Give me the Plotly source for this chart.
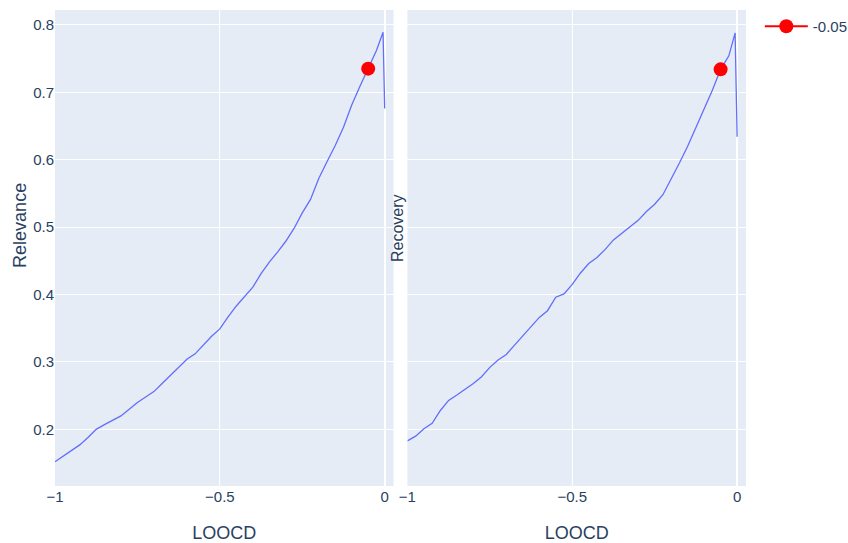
import plotly.graph_objects as go
from plotly.subplots import make_subplots

# LOOCD threshold grid (shared by both panels)
loocd_rel = [-1.0, -0.975, -0.95, -0.925, -0.9, -0.875, -0.85, -0.825, -0.8, -0.775,
             -0.75, -0.725, -0.7, -0.675, -0.65, -0.625, -0.6, -0.575, -0.55, -0.525,
             -0.5, -0.475, -0.45, -0.425, -0.4, -0.375, -0.35, -0.325, -0.3, -0.275,
             -0.25, -0.225, -0.2, -0.175, -0.15, -0.125, -0.1, -0.075, -0.05, -0.025,
             -0.005, 0.0]
relevance = [0.152, 0.160, 0.168, 0.177, 0.188, 0.200, 0.207, 0.213, 0.220, 0.230,
             0.240, 0.248, 0.256, 0.268, 0.280, 0.291, 0.304, 0.312, 0.325, 0.338,
             0.349, 0.367, 0.383, 0.397, 0.411, 0.431, 0.448, 0.463, 0.479, 0.498,
             0.521, 0.541, 0.572, 0.597, 0.621, 0.648, 0.681, 0.709, 0.735, 0.762,
             0.789, 0.676]

loocd_rec = [-1.0, -0.975, -0.95, -0.925, -0.9, -0.875, -0.85, -0.825, -0.8, -0.775,
             -0.75, -0.725, -0.7, -0.675, -0.65, -0.625, -0.6, -0.575, -0.55, -0.525,
             -0.5, -0.475, -0.45, -0.425, -0.4, -0.375, -0.35, -0.325, -0.3, -0.275,
             -0.25, -0.225, -0.2, -0.175, -0.15, -0.125, -0.1, -0.075, -0.05, -0.025,
             -0.006, 0.0]
recovery = [0.183, 0.190, 0.201, 0.209, 0.228, 0.243, 0.251, 0.259, 0.268, 0.278,
            0.292, 0.303, 0.311, 0.325, 0.339, 0.352, 0.366, 0.376, 0.396, 0.401,
            0.415, 0.432, 0.446, 0.455, 0.467, 0.481, 0.491, 0.500, 0.510, 0.523,
            0.534, 0.548, 0.571, 0.595, 0.620, 0.648, 0.676, 0.703, 0.734, 0.754,
            0.788, 0.634]

# selected threshold
sel_x = [-0.05]
sel_rel = [0.735]
sel_rec = [0.734]
sel_name = "-0.05"

fig = make_subplots(rows=1, cols=2, shared_yaxes=True, horizontal_spacing=0.02)

fig.add_trace(go.Scatter(x=loocd_rel, y=relevance, mode="lines",
                         line=dict(color="#636efa", width=1.3), showlegend=False),
              row=1, col=1)
fig.add_trace(go.Scatter(x=loocd_rec, y=recovery, mode="lines",
                         line=dict(color="#636efa", width=1.3), showlegend=False),
              row=1, col=2)
fig.add_trace(go.Scatter(x=sel_x, y=sel_rel, mode="lines+markers", name=sel_name,
                         legendgroup="sel",
                         marker=dict(color="red", size=14), line=dict(color="red")),
              row=1, col=1)
fig.add_trace(go.Scatter(x=sel_x, y=sel_rec, mode="lines+markers", name=sel_name,
                         legendgroup="sel", showlegend=False,
                         marker=dict(color="red", size=14), line=dict(color="red")),
              row=1, col=2)

xtick = dict(tickvals=[-1, -0.5, 0], ticktext=["\u22121", "\u22120.5", "0"])
fig.update_xaxes(range=[-1, 0.027], title=dict(text="LOOCD", standoff=24), **xtick)
fig.update_yaxes(range=[0.116, 0.822], dtick=0.1)

# y-axis titles for the two panels
title_color = "#2a3f5f"
fig.add_annotation(text="Relevance", xref="paper", yref="paper",
                   x=-0.051, y=0.548, xanchor="center", yanchor="middle",
                   textangle=-90, showarrow=False,
                   font=dict(size=18, color=title_color))
fig.add_annotation(text="Recovery", xref="paper", yref="paper",
                   x=0.495, y=0.542, xanchor="center", yanchor="middle",
                   textangle=-90, showarrow=False,
                   font=dict(size=16, color=title_color))

fig.update_layout(
    width=848, height=543,
    template="plotly",
    font=dict(family="Arial", size=15),
    margin=dict(l=55, r=102, t=10, b=57, autoexpand=False),
    legend=dict(itemwidth=43, x=1.02, y=1),
)

fig.write_html("out.html")
